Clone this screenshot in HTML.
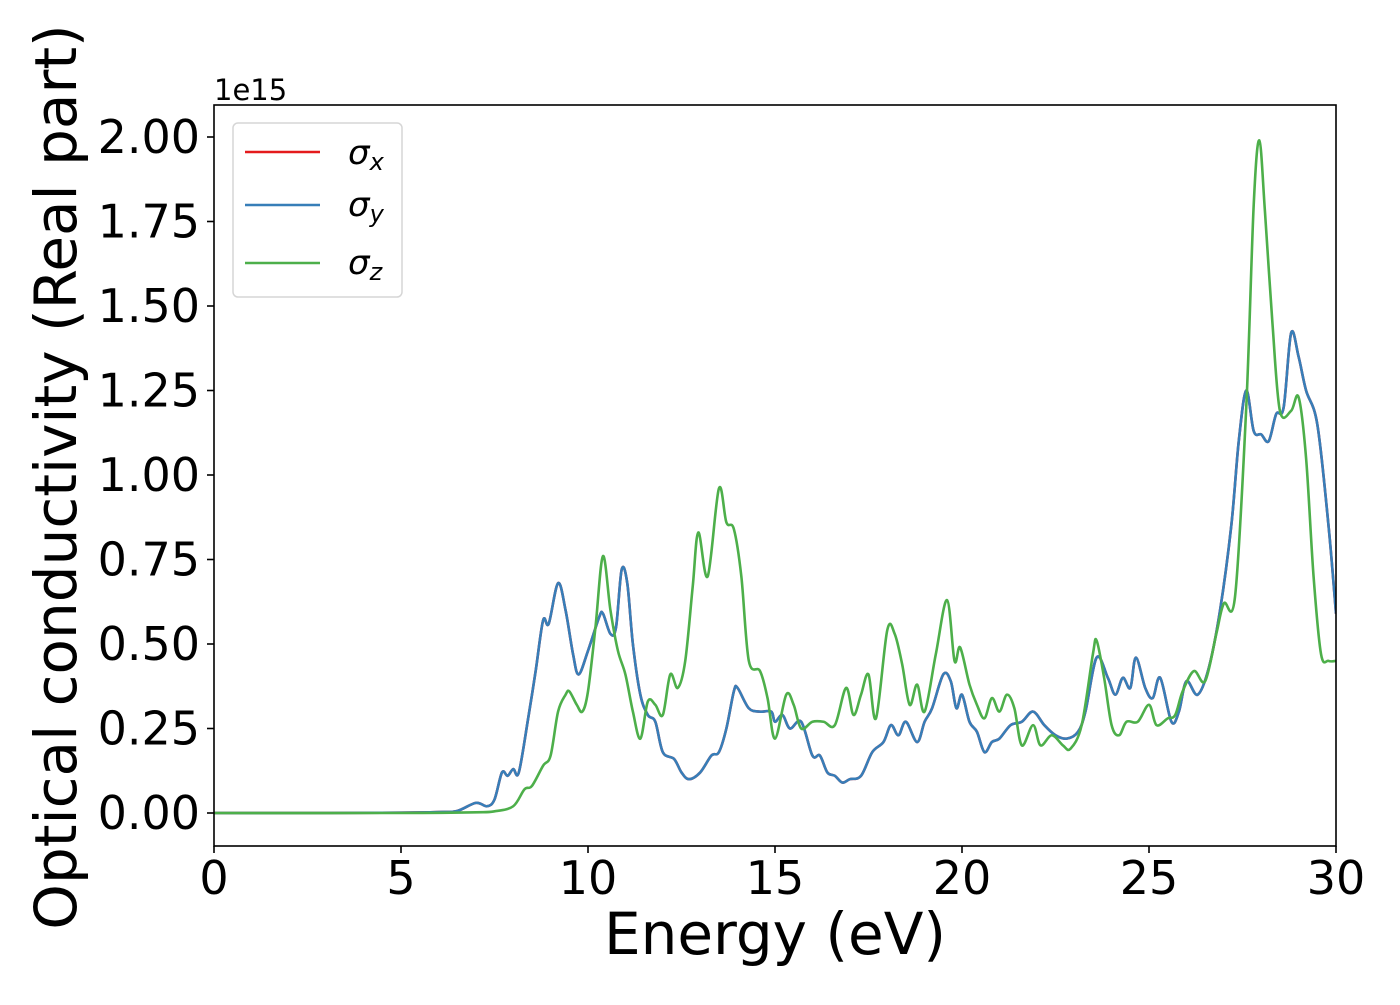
<!DOCTYPE html>
<html><head><meta charset="utf-8"><style>
body{margin:0;background:#fff;}
svg text{font-family:"DejaVu Sans","Liberation Sans",sans-serif;fill:#000;}
</style></head><body>
<svg id="chart" width="1400" height="1000" xmlns="http://www.w3.org/2000/svg">
<g id="plot"></g>
</svg>
<script>
const xTicks=[0,5,10,15,20,25,30];
const yTicks=[0,0.25,0.5,0.75,1.0,1.25,1.5,1.75,2.0];
const yTickLabels=["0.00","0.25","0.50","0.75","1.00","1.25","1.50","1.75","2.00"];
const blueE=[0,3,5,6,6.5,7.0,7.3,7.5,7.7,7.85,8.0,8.15,8.4,8.6,8.8,8.95,9.2,9.4,9.6,9.75,10.0,10.3,10.4,10.6,10.75,10.9,11.05,11.2,11.4,11.6,11.8,12.0,12.3,12.5,12.7,13.0,13.3,13.5,13.7,13.9,14.0,14.3,14.6,14.9,15.0,15.2,15.4,15.7,16.0,16.2,16.4,16.6,16.8,17.0,17.3,17.6,17.9,18.1,18.3,18.5,18.8,19.0,19.2,19.5,19.7,19.85,20.0,20.2,20.4,20.6,20.8,21.0,21.3,21.6,21.9,22.2,22.5,22.8,23.1,23.3,23.6,23.9,24.1,24.3,24.5,24.65,24.9,25.1,25.3,25.6,25.8,26.0,26.3,26.6,26.9,27.2,27.4,27.6,27.8,28.0,28.2,28.4,28.6,28.8,29.0,29.2,29.5,29.8,30.0];
const blueV=[0,0,0.001,0.003,0.006,0.03,0.02,0.04,0.12,0.11,0.13,0.12,0.28,0.42,0.57,0.56,0.68,0.60,0.47,0.41,0.48,0.58,0.59,0.53,0.55,0.72,0.68,0.50,0.35,0.29,0.27,0.18,0.16,0.12,0.10,0.12,0.17,0.18,0.25,0.36,0.37,0.31,0.30,0.30,0.27,0.29,0.25,0.27,0.17,0.17,0.12,0.11,0.09,0.10,0.11,0.18,0.21,0.26,0.23,0.27,0.21,0.27,0.31,0.41,0.39,0.31,0.35,0.27,0.24,0.18,0.21,0.22,0.26,0.27,0.30,0.26,0.23,0.22,0.24,0.30,0.46,0.40,0.35,0.40,0.37,0.46,0.37,0.34,0.40,0.27,0.30,0.39,0.35,0.43,0.60,0.85,1.10,1.25,1.13,1.12,1.10,1.18,1.20,1.42,1.35,1.25,1.15,0.85,0.59];
const greenE=[0,5,7,7.5,8.0,8.3,8.5,8.8,9.0,9.2,9.4,9.5,9.7,9.85,10.0,10.2,10.4,10.6,10.8,11.0,11.2,11.4,11.6,11.8,12.0,12.2,12.4,12.6,12.8,12.95,13.2,13.5,13.7,13.9,14.1,14.3,14.6,14.8,15.0,15.3,15.5,15.7,16.0,16.3,16.6,16.9,17.1,17.3,17.5,17.7,18.0,18.2,18.4,18.6,18.8,19.0,19.3,19.6,19.8,19.95,20.2,20.4,20.6,20.8,21.0,21.2,21.4,21.6,21.9,22.1,22.4,22.7,22.9,23.2,23.5,23.6,23.8,24.0,24.2,24.4,24.7,25.0,25.2,25.5,25.7,25.9,26.2,26.5,26.8,27.0,27.3,27.6,27.8,27.95,28.1,28.3,28.5,28.8,29.0,29.2,29.4,29.6,29.8,30.0];
const greenV=[0,0,0.002,0.005,0.02,0.07,0.08,0.14,0.17,0.30,0.35,0.36,0.32,0.30,0.36,0.55,0.76,0.60,0.48,0.41,0.30,0.22,0.33,0.32,0.29,0.41,0.37,0.45,0.67,0.83,0.70,0.96,0.86,0.84,0.70,0.45,0.42,0.34,0.22,0.35,0.32,0.25,0.27,0.27,0.26,0.37,0.29,0.35,0.41,0.28,0.54,0.53,0.44,0.32,0.38,0.30,0.47,0.63,0.45,0.49,0.38,0.32,0.28,0.34,0.30,0.35,0.31,0.20,0.26,0.20,0.23,0.20,0.19,0.26,0.47,0.51,0.40,0.26,0.23,0.27,0.27,0.32,0.26,0.28,0.29,0.36,0.42,0.39,0.53,0.62,0.64,1.20,1.80,1.99,1.78,1.45,1.19,1.19,1.23,1.05,0.70,0.47,0.45,0.45];

const L=214,R=1336,T=105,B=846;
const sx=e=>L+(e-0)/(30-0)*(R-L);
const sy=v=>813-v*338;
const g=document.getElementById('plot');
const NS='http://www.w3.org/2000/svg';
function mk(tag,attrs){const el=document.createElementNS(NS,tag);for(const k in attrs)el.setAttribute(k,attrs[k]);return el;}
function path(xs,vs){
  const p=xs.map((x,i)=>[sx(x),sy(vs[i])]);
  let d='M'+p[0][0].toFixed(2)+','+p[0][1].toFixed(2);
  for(let i=0;i<p.length-1;i++){
    const p0=p[Math.max(0,i-1)],p1=p[i],p2=p[i+1],p3=p[Math.min(p.length-1,i+2)];
    const c1x=p1[0]+(p2[0]-p0[0])/6,c1y=p1[1]+(p2[1]-p0[1])/6;
    const c2x=p2[0]-(p3[0]-p1[0])/6,c2y=p2[1]-(p3[1]-p1[1])/6;
    d+=` C${c1x.toFixed(2)},${c1y.toFixed(2)} ${c2x.toFixed(2)},${c2y.toFixed(2)} ${p2[0].toFixed(2)},${p2[1].toFixed(2)}`;
  }
  return d;
}
const clip=mk('clipPath',{id:'cp'});clip.appendChild(mk('rect',{x:L,y:T,width:R-L,height:B-T}));g.appendChild(clip);
const series=[['sigma-x-line','#e41a1c',blueE,blueV],['sigma-y-line','#377eb8',blueE,blueV],['sigma-z-line','#4daf4a',greenE,greenV]];
series.forEach(s=>{
  const el=mk('path',{d:path(s[2],s[3]),fill:'none',stroke:s[1],'stroke-width':2.6,'clip-path':'url(#cp)','stroke-linejoin':'round'});
  
  
  g.appendChild(el);
});
const frame=mk('rect',{x:L,y:T,width:R-L,height:B-T,fill:'none',stroke:'#000','stroke-width':1.6});


g.appendChild(frame);
xTicks.forEach(t=>{
  const x=sx(t);
  const tk=mk('line',{x1:x,y1:B,x2:x,y2:B+7,stroke:'#000','stroke-width':1.6});
  
  
  g.appendChild(tk);
  const tx=mk('text',{x:x,y:B+48,'text-anchor':'middle','font-size':46});
  tx.textContent=t;
  
  
  g.appendChild(tx);
});
yTicks.forEach((t,i)=>{
  const y=sy(t);
  const tk=mk('line',{x1:L-7,y1:y,x2:L,y2:y,stroke:'#000','stroke-width':1.6});
  
  
  g.appendChild(tk);
  const tx=mk('text',{x:L-14,y:y+16,'text-anchor':'end','font-size':46});
  tx.textContent=yTickLabels[i];
  
  
  g.appendChild(tx);
});
</script>
<svg style="position:absolute;left:0;top:0" width="1400" height="1000" xmlns="http://www.w3.org/2000/svg">
<text x="214" y="100" font-size="29">1e15</text>
<text x="775" y="954" text-anchor="middle" font-size="58">Energy (eV)</text>
<text transform="translate(76,477) rotate(-90)" text-anchor="middle" font-size="58">Optical conductivity (Real part)</text>
<g>
<rect x="233" y="123" width="169" height="174" rx="5" fill="#fff" fill-opacity="0.8" stroke="#d6d6d6" stroke-width="1.5"/>
<line x1="245" y1="152" x2="320" y2="152" stroke="#e41a1c" stroke-width="2.6"/>
<text x="348" y="164" font-size="34" font-style="italic">σ<tspan font-size="24" dy="6">x</tspan></text>
<line x1="245" y1="205" x2="320" y2="205" stroke="#377eb8" stroke-width="2.6"/>
<text x="348" y="216" font-size="34" font-style="italic">σ<tspan font-size="24" dy="6">y</tspan></text>
<line x1="245" y1="263" x2="320" y2="263" stroke="#4daf4a" stroke-width="2.6"/>
<text x="348" y="274" font-size="34" font-style="italic">σ<tspan font-size="24" dy="6">z</tspan></text>
</g>
</svg>
</body></html>
